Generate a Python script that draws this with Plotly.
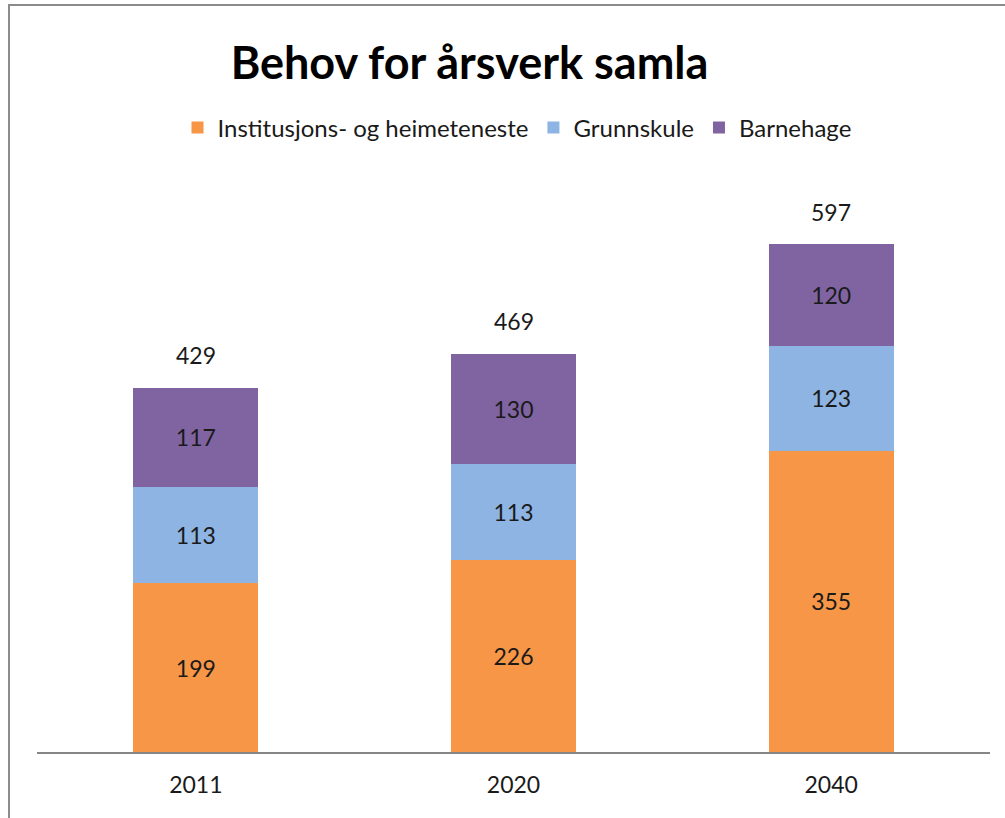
import plotly.graph_objects as go

years = ["2011", "2020", "2040"]
institusjon = [199, 226, 355]
grunnskule = [113, 113, 123]
barnehage = [117, 130, 120]
totals = [429, 469, 597]

series = [
    ("Institusjons- og heimeteneste", institusjon, "#F79646"),
    ("Grunnskule", grunnskule, "#8DB4E2"),
    ("Barnehage", barnehage, "#8064A2"),
]

FONT = "Lato"
TXT = "#1a1a1a"

fig = go.Figure()
for name, vals, col in series:
    fig.add_trace(go.Bar(
        name=name, x=years, y=vals,
        marker=dict(color=col, line=dict(width=0)),
        text=[str(v) for v in vals],
        textposition="inside", insidetextanchor="middle", textangle=0,
        textfont=dict(family=FONT, size=23, color=TXT),
        hoverinfo="skip",
    ))

annotations = []
for i, tot in enumerate(totals):
    # category axis: annotations use the category serial index
    annotations.append(dict(
        x=i, y=tot, xref="x", yref="y", text=str(tot), showarrow=False,
        yanchor="middle", yshift=33,
        font=dict(family=FONT, size=23, color=TXT),
    ))

fig.update_layout(
    width=1005, height=818,
    barmode="stack", bargap=0.607,
    paper_bgcolor="white", plot_bgcolor="white",
    margin=dict(l=37, r=15, t=160, b=66),
    title=dict(text="<b>Behov for årsverk samla</b>", x=469.5 / 1005, xanchor="center",
               y=1 - 63 / 818, yanchor="middle", yref="container",
               font=dict(family=FONT, size=45, color="#000000")),
    legend=dict(orientation="h", x=(517 - 37) / 953, xanchor="center",
                y=(752 - 128) / 592, yanchor="middle", traceorder="normal",
                font=dict(family=FONT, size=24, color=TXT),
                itemwidth=30, tracegroupgap=0),
    annotations=annotations,
    xaxis=dict(type="category", showline=True, linecolor="#868686", linewidth=1.5,
               ticks="", showgrid=False, zeroline=False, ticklabelstandoff=12,
               tickfont=dict(family=FONT, size=23, color=TXT)),
    yaxis=dict(visible=False, range=[0, 592 / 0.849], showgrid=False, zeroline=False),
    shapes=[dict(type="rect", xref="paper", yref="paper",
                 x0=(9 - 37) / 953, x1=1.1, y0=-0.3, y1=(752 - 5) / 592,
                 line=dict(color="#8c8c8c", width=2), fillcolor="rgba(0,0,0,0)",
                 layer="below")],
    showlegend=True,
)

fig.write_html("out.html", config={"displayModeBar": False},
               post_script="document.body.style.margin='0';")
